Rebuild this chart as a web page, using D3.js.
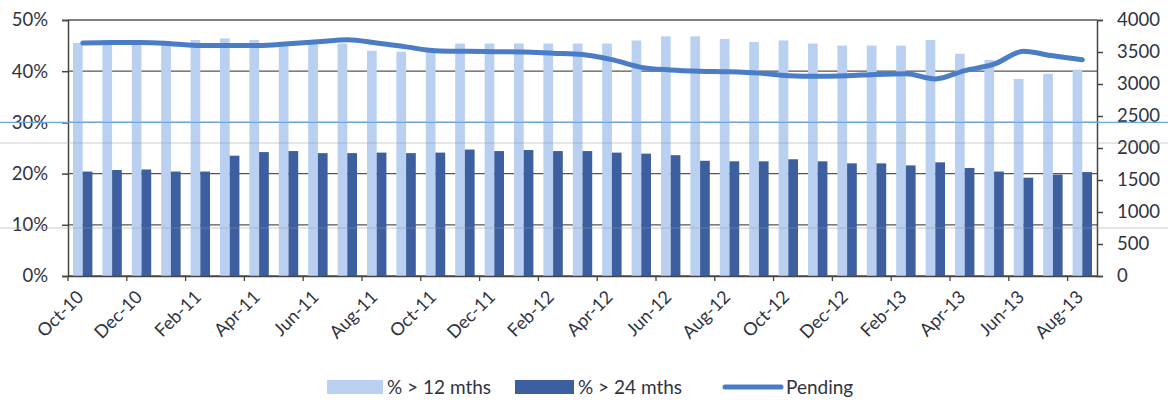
<!DOCTYPE html>
<meta charset="utf-8">
<head>
<script src="https://d3js.org/d3.v7.min.js"></script>
<style>
  body { margin: 0; background: #fff; }
  text { font-family: Lato, "Liberation Sans", sans-serif; fill: #30333f; }
</style>
</head>
<body>
<div id="my_dataviz"></div>
<script>

// months Oct-10 .. Aug-13
var months = ["Oct-10","Nov-10","Dec-10","Jan-11","Feb-11","Mar-11","Apr-11","May-11","Jun-11","Jul-11","Aug-11","Sep-11",
  "Oct-11","Nov-11","Dec-11","Jan-12","Feb-12","Mar-12","Apr-12","May-12","Jun-12","Jul-12","Aug-12","Sep-12",
  "Oct-12","Nov-12","Dec-12","Jan-13","Feb-13","Mar-13","Apr-13","May-13","Jun-13","Jul-13","Aug-13"];

// % > 12 mths (left axis)
var over12 = [45.5,46.0,46.1,45.8,46.1,46.4,46.1,45.7,45.4,45.4,44.0,43.8,
  44.4,45.4,45.4,45.4,45.4,45.4,45.4,46.0,46.8,46.8,46.3,45.7,
  46.0,45.4,45.0,45.0,45.0,46.1,43.4,42.2,38.5,39.5,40.3];

// % > 24 mths (left axis)
var over24 = [20.4,20.7,20.8,20.4,20.4,23.5,24.2,24.4,24.0,24.0,24.1,24.0,
  24.1,24.7,24.4,24.6,24.4,24.4,24.1,23.9,23.6,22.5,22.4,22.4,
  22.8,22.4,22.0,22.0,21.6,22.2,21.1,20.4,19.2,19.8,20.3];

// Pending (right axis)
var pending = [3640,3650,3650,3630,3600,3600,3600,3630,3660,3690,3640,3580,
  3520,3510,3505,3500,3480,3460,3380,3260,3220,3200,3190,3170,
  3130,3120,3130,3150,3160,3080,3210,3310,3510,3440,3380];

var leftTicks = [0,10,20,30,40,50];
var rightTicks = [0,500,1000,1500,2000,2500,3000,3500,4000];
var seriesNames = ["% > 12 mths", "% > 24 mths", "Pending"];

var W = 1168, H = 406;
var margin = {top: 20, right: 71, bottom: 130, left: 68},
    width = W - margin.left - margin.right,
    height = H - margin.top - margin.bottom;

var svgRoot = d3.select("#my_dataviz")
  .append("svg")
    .attr("width", W)
    .attr("height", H);

var svg = svgRoot.append("g")
    .attr("transform", "translate(" + margin.left + "," + margin.top + ")");

var x = d3.scaleBand()
  .domain(months)
  .range([0, width])
  .paddingInner(0.34)
  .paddingOuter(0.17);

var x1 = d3.scaleBand()
  .domain(["a", "b"])
  .range([0, x.bandwidth()]);

var y = d3.scaleLinear().domain([0, 50]).range([height, 0]);
var y2 = d3.scaleLinear().domain([0, 4000]).range([height, 0]);

// gridlines
svg.append("g")
  .selectAll("line")
  .data(leftTicks)
  .enter()
  .append("line")
    .attr("x1", 0)
    .attr("x2", width)
    .attr("y1", function(d) { return y(d); })
    .attr("y2", function(d) { return y(d); })
    .style("stroke", "#555")
    .style("stroke-width", 1.3);

// scan artefact lines running across the page
svgRoot.append("line")
  .attr("x1", 0).attr("x2", W)
  .attr("y1", margin.top + y(30)).attr("y2", margin.top + y(30))
  .style("stroke", "#6fa6dc").style("stroke-width", 1.2);
[143, 228].forEach(function(v) {
  svgRoot.append("line")
    .attr("x1", 0).attr("x2", W)
    .attr("y1", v).attr("y2", v)
    .style("stroke", "#999").style("stroke-width", 0.8).style("opacity", 0.6);
});

// bars
svg.append("g")
  .selectAll("rect")
  .data(months)
  .enter()
  .append("rect")
    .attr("x", function(d) { return x(d) + x1("a"); })
    .attr("y", function(d, i) { return y(over12[i]); })
    .attr("width", x1.bandwidth())
    .attr("height", function(d, i) { return height - y(over12[i]); })
    .style("fill", "#b9d0f1");

svg.append("g")
  .selectAll("rect")
  .data(months)
  .enter()
  .append("rect")
    .attr("x", function(d) { return x(d) + x1("b"); })
    .attr("y", function(d, i) { return y(over24[i]); })
    .attr("width", x1.bandwidth())
    .attr("height", function(d, i) { return height - y(over24[i]); })
    .style("fill", "#3d5f9f");

// pending line
var line = d3.line()
  .x(function(d, i) { return x(months[i]) + x.bandwidth() / 2; })
  .y(function(d) { return y2(d); })
  .curve(d3.curveMonotoneX);

svg.append("path")
  .datum(pending)
  .attr("d", line)
  .style("fill", "none")
  .style("stroke", "#4b7dc6")
  .style("stroke-width", 5)
  .style("stroke-linecap", "round");

// left axis
var yAxis = svg.append("g")
  .call(d3.axisLeft(y).tickValues(leftTicks).tickFormat(function(d) { return d + "%"; }).tickSize(6).tickPadding(14));
yAxis.selectAll("text").style("font-size", "18.5px").style("fill", "#30333f");
yAxis.selectAll("line, path").style("stroke", "#444").style("stroke-width", 1.5);

// right axis
var y2Axis = svg.append("g")
  .attr("transform", "translate(" + width + ",0)")
  .call(d3.axisRight(y2).tickValues(rightTicks).tickFormat(d3.format("d")).tickSize(6).tickPadding(14));
y2Axis.selectAll("text").style("font-size", "18.5px").style("fill", "#30333f");
y2Axis.selectAll("line, path").style("stroke", "#444").style("stroke-width", 1.5);

// bottom axis
var xAxis = svg.append("g")
  .attr("transform", "translate(0," + height + ")")
  .call(d3.axisBottom(x).tickSize(0).tickPadding(0).tickFormat(""));
xAxis.select("path").style("stroke", "#444").style("stroke-width", 1.5);

var step = x.step();
svg.append("g")
  .selectAll("line")
  .data(months.filter(function(d, i) { return i % 2 === 0; }))
  .enter()
  .append("line")
    .attr("x1", function(d) { return x(d) - step * 0.17; })
    .attr("x2", function(d) { return x(d) - step * 0.17; })
    .attr("y1", height)
    .attr("y2", height + 5)
    .style("stroke", "#444")
    .style("stroke-width", 1.3);

svg.append("g")
  .selectAll("text")
  .data(months.filter(function(d, i) { return i % 2 === 0; }))
  .enter()
  .append("text")
    .attr("text-anchor", "end")
    .attr("transform", function(d) {
      return "translate(" + (x(d) + x.bandwidth() / 2 + 2) + "," + (height + 22) + ")rotate(-45)";
    })
    .style("font-size", "18px")
    .text(function(d) { return d; });

// legend
var legend = svgRoot.append("g");
legend.append("rect").attr("x", 327).attr("y", 380).attr("width", 56).attr("height", 14).style("fill", "#b9d0f1");
legend.append("text").attr("x", 387).attr("y", 394).style("font-size", "19px").text(seriesNames[0]);
legend.append("rect").attr("x", 515).attr("y", 380).attr("width", 59).attr("height", 14).style("fill", "#3d5f9f");
legend.append("text").attr("x", 578).attr("y", 394).style("font-size", "19px").text(seriesNames[1]);
legend.append("line").attr("x1", 725).attr("x2", 781).attr("y1", 387).attr("y2", 387)
  .style("stroke", "#4b7dc6").style("stroke-width", 5).style("stroke-linecap", "round");
legend.append("text").attr("x", 786).attr("y", 394).style("font-size", "19px").text(seriesNames[2]);

</script>
</body>
</html>
